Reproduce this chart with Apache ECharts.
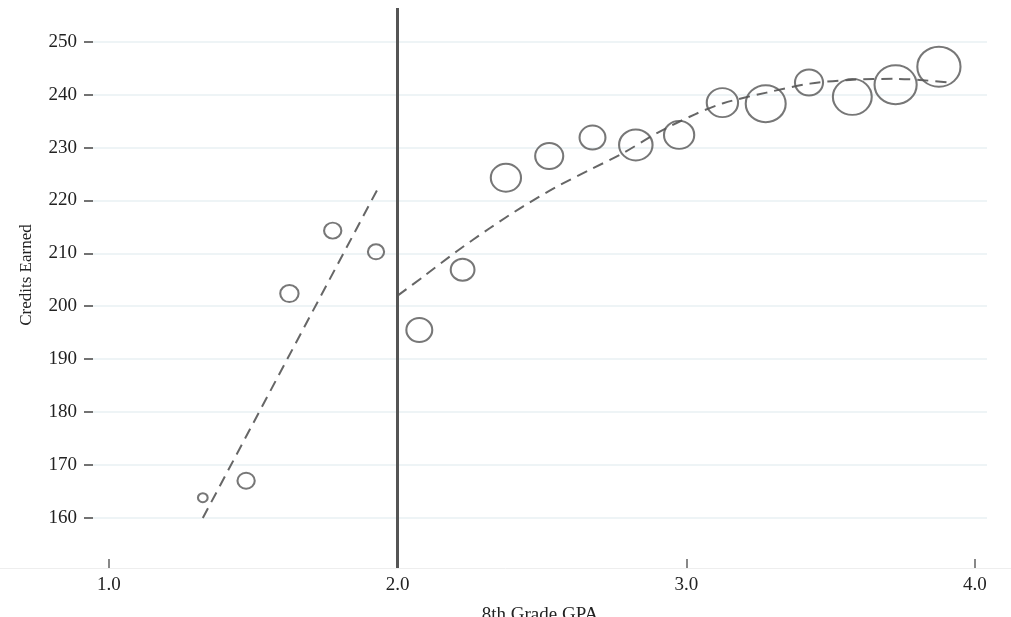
<!DOCTYPE html>
<html>
<head>
<meta charset="utf-8">
<script src="https://cdn.jsdelivr.net/npm/echarts@6/dist/echarts.min.js"></script>
<style>
html,body{margin:0;padding:0;background:#fff;}
#chart{width:1011px;height:617px;}
</style>
</head>
<body>
<div id="chart"></div>
<script>
// ---- data ----
const gpaBins = [1.325, 1.475, 1.625, 1.775, 1.925, 2.075, 2.225, 2.375, 2.525, 2.675, 2.825, 2.975, 3.125, 3.275, 3.425, 3.575, 3.725, 3.875];
const creditsEarned = [163.8, 167.0, 202.4, 214.3, 210.3, 195.5, 206.9, 224.3, 228.4, 231.9, 230.5, 232.4, 238.5, 238.3, 242.3, 239.6, 241.9, 245.3];
const binWeight = [81, 256, 289, 256, 225, 576, 484, 784, 676, 576, 961, 784, 841, 1369, 676, 1296, 1521, 1600];
const leftFitX = [1.325, 1.931];
const leftFitY = [159.95, 222.2];
const rightFitX = [2.0, 2.089, 2.205, 2.320, 2.435, 2.551, 2.666, 2.782, 2.90, 3.030, 3.128, 3.278, 3.428, 3.567, 3.729, 3.913];
const rightFitY = [202.0, 205.6, 210.4, 214.8, 218.9, 222.6, 225.8, 229.0, 232.8, 236.3, 238.4, 240.4, 242.1, 242.8, 243.0, 242.3];
const cutoff = 2.0;
const xTicks = [1, 2, 3, 4];
const yTicks = [160, 170, 180, 190, 200, 210, 220, 230, 240, 250];

const serif = '"Liberation Serif", "DejaVu Serif", serif';
const ink = '#555555';

const chart = echarts.init(document.getElementById('chart'));
const option = {
  animation: false,
  backgroundColor: '#fff',
  grid: [
    {left: 93, right: 24, top: 8, bottom: 49, containLabel: false, outerBoundsMode: 'none'},
    {left: 0, right: 0, top: 8, bottom: 49, containLabel: false, outerBoundsMode: 'none'}
  ],
  xAxis: [
    {
      type: 'value', gridIndex: 0, min: 0.9446, max: 4.0416,
      name: '8th Grade GPA', nameLocation: 'middle', nameGap: 38,
      nameTextStyle: {fontFamily: serif, fontSize: 19, color: '#222'},
      axisLine: {show: false},
      axisTick: {show: true, inside: true, length: 9, customValues: xTicks, lineStyle: {color: '#888', width: 2}},
      axisLabel: {customValues: xTicks, margin: 8, fontFamily: serif, fontSize: 19, color: '#222', formatter: v => v.toFixed(1)},
      splitLine: {show: false}
    },
    {
      type: 'value', gridIndex: 1, min: 0, max: 1,
      axisLine: {show: true, lineStyle: {color: '#eeeeee', width: 1}},
      axisTick: {show: false}, axisLabel: {show: false}, splitLine: {show: false}
    }
  ],
  yAxis: [
    {
      type: 'value', gridIndex: 0, min: 150.5, max: 256.4,
      name: 'Credits Earned', nameLocation: 'middle', nameGap: 58,
      nameTextStyle: {fontFamily: serif, fontSize: 17, color: '#222', padding: [0, 0, 0, 26]},
      axisLine: {show: false},
      axisTick: {show: true, length: 9, customValues: yTicks, lineStyle: {color: '#444', width: 1.5}},
      axisLabel: {customValues: yTicks, margin: 16, fontFamily: serif, fontSize: 19, color: '#222'},
      splitLine: {show: true, lineStyle: {color: '#e9f1f3', width: 1.5}}
    },
    {
      type: 'value', gridIndex: 1, min: 0, max: 1, show: false
    }
  ],
  series: [
    {
      type: 'line', xAxisIndex: 0, yAxisIndex: 0,
      data: leftFitX.map((x, i) => [x, leftFitY[i]]),
      showSymbol: false, symbol: 'none',
      lineStyle: {color: '#666', width: 2, type: [11, 7]},
      z: 3
    },
    {
      type: 'line', xAxisIndex: 0, yAxisIndex: 0,
      data: rightFitX.map((x, i) => [x, rightFitY[i]]),
      showSymbol: false, symbol: 'none', smooth: 0.3,
      lineStyle: {color: '#666', width: 2, type: [11, 7]},
      z: 3
    },
    {
      type: 'scatter', xAxisIndex: 0, yAxisIndex: 0,
      data: gpaBins.map((x, i) => [x, creditsEarned[i], binWeight[i]]),
      symbol: 'circle',
      symbolSize: d => { const s = Math.sqrt(d[2]); return [s * 1.08, s]; },
      itemStyle: {color: 'rgba(0,0,0,0)', borderColor: ink, borderWidth: 2},
      z: 4,
      markLine: {
        silent: true, symbol: ['none', 'none'], label: {show: false},
        lineStyle: {color: '#555', width: 3, type: 'solid'},
        data: [{xAxis: cutoff}]
      }
    },
    {
      type: 'line', xAxisIndex: 1, yAxisIndex: 1, data: [], silent: true
    }
  ]
};
chart.setOption(option);
</script>
</body>
</html>
